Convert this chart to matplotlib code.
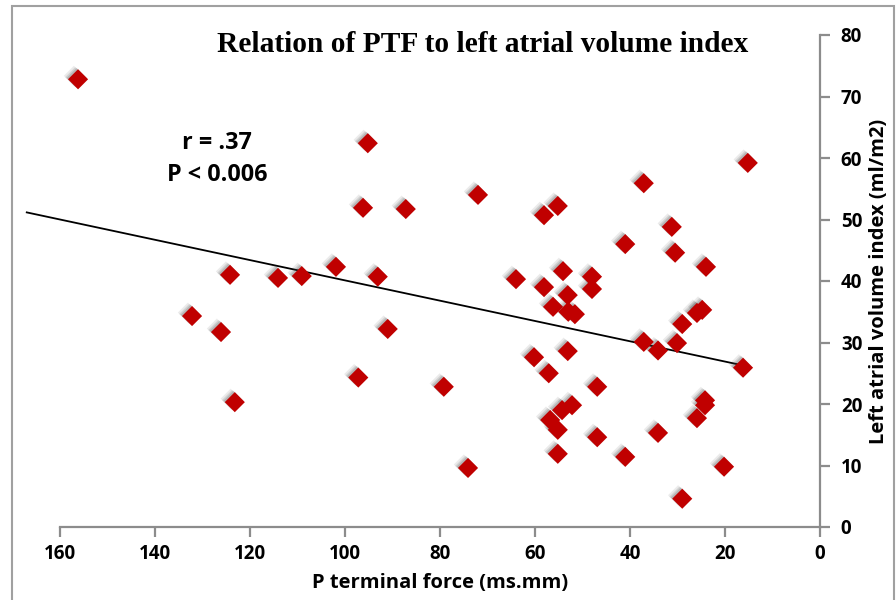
import numpy as np
import matplotlib
matplotlib.use("Agg")
import matplotlib.pyplot as plt
import matplotlib.patheffects as pe
from matplotlib.patches import Rectangle

# P terminal force (ms.mm) vs left atrial volume index (ml/m2)
ptf = [156.2, 95.2, 15.2, 37.1, 72.0, 96.2, 87.2, 58.1, 55.2, 31.2,
       41.0, 30.5, 24.0, 124.2, 114.1, 109.1, 101.9, 93.1, 64.0, 54.1,
       48.0, 58.1, 48.0, 53.1, 56.2, 53.0, 51.6, 132.2, 126.1, 91.0,
       25.9, 24.8, 29.0, 37.1, 34.1, 30.1, 16.2, 60.2, 53.1, 57.1,
       46.9, 79.2, 97.2, 123.2, 52.2, 54.3, 56.8, 55.2, 24.2, 24.2,
       25.9, 46.9, 34.1, 55.2, 41.0, 74.1, 20.2, 29.0]
lavi = [72.8, 62.4, 59.2, 55.9, 54.0, 51.9, 51.7, 50.7, 52.2, 48.8,
        46.0, 44.6, 42.3, 41.0, 40.5, 40.8, 42.3, 40.7, 40.3, 41.6,
        40.7, 39.0, 38.7, 37.7, 35.8, 35.0, 34.6, 34.3, 31.7, 32.2,
        34.8, 35.3, 33.0, 30.1, 28.7, 29.9, 25.9, 27.6, 28.6, 25.0,
        22.8, 22.8, 24.3, 20.3, 19.8, 19.0, 17.4, 15.8, 20.6, 19.8,
        17.7, 14.6, 15.3, 11.9, 11.4, 9.6, 9.8, 4.6]

trend_x = [167, 15.5]        # span of the drawn trendline
trend_slope = 0.165
trend_intercept = 23.6

x_ticks = [160, 140, 120, 100, 80, 60, 40, 20, 0]
y_ticks = [0, 10, 20, 30, 40, 50, 60, 70, 80]

title = "Relation of PTF to left atrial volume index"
stats_text = "r = .37\nP < 0.006"

W, H = 896, 600
fig = plt.figure(figsize=(W / 100, H / 100), dpi=100)
ax = fig.add_axes([12.5 / W, 1 - 527 / H, (820 - 12.5) / W, (527 - 35) / H])

grey = "#8c8c8c"
red = "#c00000"
sans = ["Open Sans", "DejaVu Sans"]

# soft shadow (a few faint offset copies), then the markers
shadow = [pe.SimplePatchShadow(offset=(-3, 2.5), shadow_rgbFace="#404040", alpha=0.10),
          pe.SimplePatchShadow(offset=(-2, 1.5), shadow_rgbFace="#404040", alpha=0.14),
          pe.SimplePatchShadow(offset=(-1, 1), shadow_rgbFace="#404040", alpha=0.18),
          pe.Normal()]
ax.scatter(ptf, lavi, marker="D", s=105, c=red, linewidths=0,
           path_effects=shadow, zorder=3)

tx = np.array(trend_x)
ax.plot(tx, trend_intercept + trend_slope * tx, color="black", lw=1.3, zorder=2)

ax.set_xlim(170, 0)
ax.set_ylim(0, 80)
ax.set_xticks(x_ticks)
ax.set_yticks(y_ticks)

for s in ("left", "top"):
    ax.spines[s].set_visible(False)
for s in ("right", "bottom"):
    ax.spines[s].set_color(grey)
    ax.spines[s].set_linewidth(1.6)
ax.spines["bottom"].set_bounds(0, 160)

ax.yaxis.tick_right()
ax.yaxis.set_label_position("right")
ax.tick_params(axis="both", direction="out", length=7, width=1.6, color=grey,
               labelsize=13.5, pad=5)
ax.tick_params(axis="y", pad=8)
for lab in ax.get_xticklabels() + ax.get_yticklabels():
    lab.set_fontweight("bold")
    lab.set_family(sans)

ax.set_xlabel("P terminal force (ms.mm)", fontsize=14.5, fontweight="bold",
              family=sans)
ax.xaxis.set_label_coords((440 - 12.5) / (820 - 12.5), -0.093)
ax.set_ylabel("Left atrial volume index (ml/m2)", fontsize=14.5, fontweight="bold",
              family=sans, labelpad=5)

fig.text(483 / W, 1 - 44 / H, title, ha="center", va="center",
         fontsize=21.2, fontweight="bold", family="Liberation Serif")
fig.text(217 / W, 1 - 159 / H, stats_text, ha="center", va="center",
         fontsize=16.8, fontweight="bold", family=sans, linespacing=1.4)

fig.patches.append(Rectangle((12 / W, -0.05), (894 - 12) / W, 1.05 - 6 / H,
                             transform=fig.transFigure, fill=False,
                             edgecolor="#a0a0a0", lw=1.5))

fig.savefig("out.png", dpi=100)
